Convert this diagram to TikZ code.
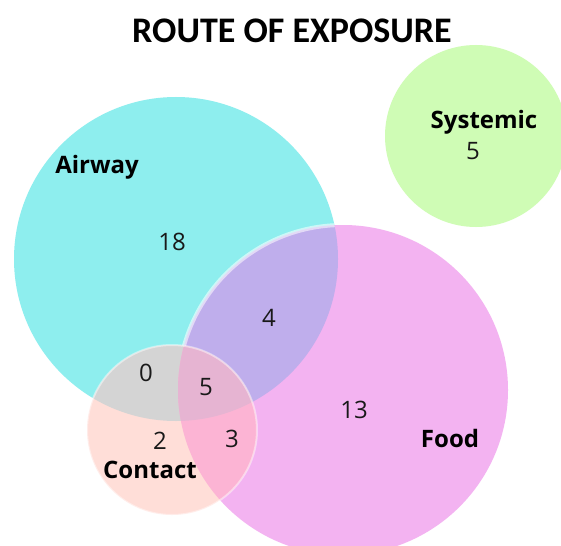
\documentclass[tikz,border=0pt]{standalone}
\usepackage{fontspec}
\setmainfont{Open Sans}
\newfontfamily\titlefont{Carlito}
\definecolor{cyanA}{HTML}{8EEEEE}
\definecolor{sysG}{HTML}{CFFCB5}
\definecolor{foodP}{HTML}{F3B3F1}
\definecolor{contS}{HTML}{FFDED8}
\definecolor{colAF}{HTML}{BFAEEC}
\definecolor{colAC}{HTML}{D4D4D4}
\definecolor{colFC}{HTML}{FCB4D4}
\definecolor{colAFC}{HTML}{E6B4D2}
\tikzset{
  setlabel/.style={font=\fontsize{24}{24}\selectfont\bfseries, text=black, inner sep=0pt},
  countlabel/.style={font=\fontsize{24}{24}\selectfont, text=black!90, inner sep=0pt},
  titlelabel/.style={font=\titlefont\fontsize{36}{36}\selectfont\bfseries, text=black, inner sep=0pt}
}
\begin{document}
\begin{tikzpicture}[x=1pt,y=1pt]
\clip (0,0) rectangle (561,-545);
\fill[white] (0,0) rectangle (561,-545);
\coordinate (cA) at (176,-259);
\coordinate (cS) at (476,-136);
\coordinate (cF) at (343,-390);
\coordinate (cC) at (172,-430);
\def\pathA{(cA) circle[radius=162]}
\def\pathS{(cS) circle[radius=91]}
\def\pathF{(cF) circle[radius=165]}
\def\pathC{(cC) circle[radius=85]}
% base circles
\fill[sysG] \pathS;
\fill[cyanA] \pathA;
\fill[foodP] \pathF;
\begin{scope}
  \clip \pathA;
  \fill[colAF] \pathF;
  \draw[white, opacity=0.55, line width=4pt] \pathF;
\end{scope}
\fill[contS] \pathC;
\begin{scope}
  \clip \pathC;
  \fill[colAC] \pathA;
  \fill[colFC] \pathF;
  \clip \pathA;
  \fill[colAFC] \pathF;
\end{scope}
\draw[white, opacity=0.45, line width=2pt] \pathC;
% texts
\node[titlelabel] (title) at (292,-31) {ROUTE OF EXPOSURE};
\node[setlabel] (lA) at (97,-167) {Airway};
\node[setlabel] (lS) at (484,-122) {Systemic};
\node[setlabel] (lF) at (450,-438) {Food};
\node[setlabel] (lC) at (150,-470) {Contact};
\node[countlabel] (n18) at (172,-242) {18};
\node[countlabel] (n5s) at (473,-151) {5};
\node[countlabel] (n4) at (269,-318) {4};
\node[countlabel] (n5) at (206,-387) {5};
\node[countlabel] (n13) at (354,-410) {13};
\node[countlabel] (n3) at (232,-439) {3};
\node[countlabel] (n0) at (146,-373) {0};
\node[countlabel] (n2) at (160,-441) {2};
\end{tikzpicture}
\end{document}
